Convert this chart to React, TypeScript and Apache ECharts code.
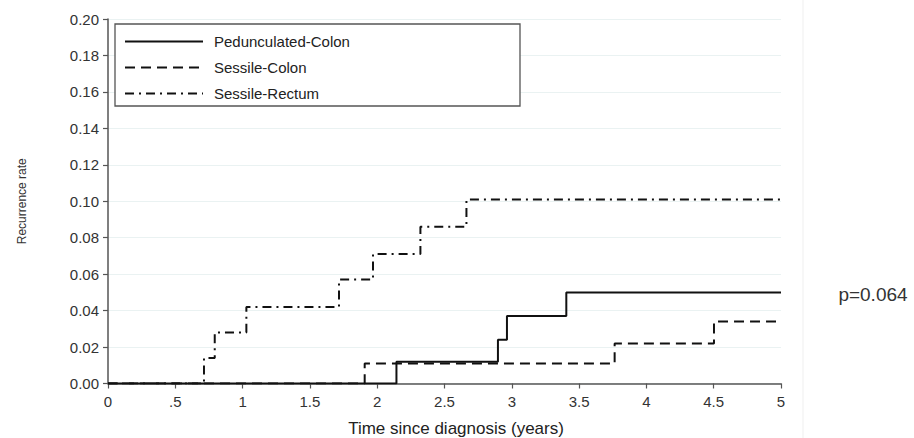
import React, { useEffect, useRef } from "react";
import * as echarts from "echarts";

const SERIES_NAMES = ["Pedunculated-Colon", "Sessile-Colon", "Sessile-Rectum"];
const PEDUNCULATED_COLON_T = [0, 2.143, 2.897, 2.964, 3.405, 5];
const PEDUNCULATED_COLON_V = [0, 0.012, 0.024, 0.037, 0.05, 0.05];
const SESSILE_COLON_T = [0, 1.907, 3.764, 4.502, 5];
const SESSILE_COLON_V = [0, 0.011, 0.022, 0.034, 0.034];
const SESSILE_RECTUM_T = [0, 0.713, 0.793, 1.028, 1.716, 1.969, 2.321, 2.663, 5];
const SESSILE_RECTUM_V = [0, 0.014, 0.028, 0.042, 0.057, 0.071, 0.086, 0.101, 0.101];
const X_TICK_LABELS = ["0", ".5", "1", "1.5", "2", "2.5", "3", "3.5", "4", "4.5", "5"];
const P_VALUE_TEXT = "p=0.064";
const X_TITLE = "Time since diagnosis (years)";
const Y_TITLE = "Recurrence rate";

const FONT = "'Liberation Sans', Arial, Helvetica, sans-serif";

function zip(t: number[], v: number[]) {
  return t.map((x, i) => [x, v[i]]);
}

export default function App() {
  const ref = useRef<HTMLDivElement>(null);
  useEffect(() => {
    if (!ref.current) return;
    const chart = echarts.init(ref.current, undefined, { renderer: "svg" });
    const lineColor = "#111";
    const mk = (name: string, data: number[][], type: any) => ({
      name,
      type: "line",
      step: "end",
      data,
      symbol: "none",
      showSymbol: false,
      lineStyle: { color: lineColor, width: 2, type },
      itemStyle: { color: lineColor },
      z: 3,
    });
    chart.setOption({
      animation: false,
      backgroundColor: "#fff",
      grid: { left: 108, right: 133, top: 19, bottom: 54.5, containLabel: false },
      xAxis: {
        type: "value",
        min: 0,
        max: 5,
        interval: 0.5,
        axisLine: { show: true, lineStyle: { color: "#555", width: 1.5 } },
        axisTick: { show: true, length: 5, lineStyle: { color: "#555", width: 1.2 } },
        axisLabel: {
          margin: 10,
          color: "#333",
          fontFamily: FONT,
          fontSize: 15,
          formatter: (v: number) => X_TICK_LABELS[Math.round(v / 0.5)] ?? "",
        },
        splitLine: { show: false },
      },
      yAxis: {
        type: "value",
        min: 0,
        max: 0.2,
        interval: 0.02,
        name: Y_TITLE,
        nameLocation: "middle",
        nameRotate: 90,
        nameGap: 80,
        nameTextStyle: { color: "#333", fontFamily: FONT, fontSize: 12 },
        axisLine: { show: true, lineStyle: { color: "#555", width: 1.5 } },
        axisTick: { show: true, length: 5, lineStyle: { color: "#555", width: 1.2 } },
        axisLabel: {
          margin: 9,
          color: "#333",
          fontFamily: FONT,
          fontSize: 15,
          formatter: (v: number) => v.toFixed(2),
        },
        splitLine: { show: true, lineStyle: { color: "#eaf2f2", width: 1 } },
      },
      legend: {
        orient: "vertical",
        left: 124,
        top: 34,
        itemWidth: 78,
        itemHeight: 14,
        itemGap: 11,
        padding: 0,
        data: SERIES_NAMES,
        itemStyle: { color: "rgba(0,0,0,0)", borderColor: "rgba(0,0,0,0)", borderWidth: 0, opacity: 0 },
        textStyle: { color: "#222", fontFamily: FONT, fontSize: 15, padding: [0, 0, 0, 6] },
        z: 10,
      },
      graphic: [
        {
          type: "rect",
          shape: { x: 115, y: 24, width: 405, height: 82 },
          style: { fill: "#fff", stroke: "#555", lineWidth: 1.3 },
          z: 5,
        },
        {
          type: "line",
          shape: { x1: 803, y1: 0, x2: 803, y2: 438 },
          style: { stroke: "#efefef", lineWidth: 1 },
          z: 0,
        },
        {
          type: "text",
          x: 456,
          y: 428,
          style: {
            text: X_TITLE,
            fill: "#222",
            font: `17px ${FONT}`,
            textAlign: "center",
            textVerticalAlign: "middle",
          },
        },
        {
          type: "text",
          x: 873,
          y: 294,
          style: {
            text: P_VALUE_TEXT,
            fill: "#333",
            font: `19px ${FONT}`,
            textAlign: "center",
            textVerticalAlign: "middle",
          },
        },
      ],
      series: [
        mk(SERIES_NAMES[0], zip(PEDUNCULATED_COLON_T, PEDUNCULATED_COLON_V), "solid"),
        mk(SERIES_NAMES[1], zip(SESSILE_COLON_T, SESSILE_COLON_V), [10, 6]),
        mk(SERIES_NAMES[2], zip(SESSILE_RECTUM_T, SESSILE_RECTUM_V), [9, 5, 2, 5]),
      ],
    });
    return () => chart.dispose();
  }, []);
  return (
    <div
      ref={ref}
      style={{ position: "fixed", left: 0, top: 0, width: 914, height: 438 }}
    />
  );
}
